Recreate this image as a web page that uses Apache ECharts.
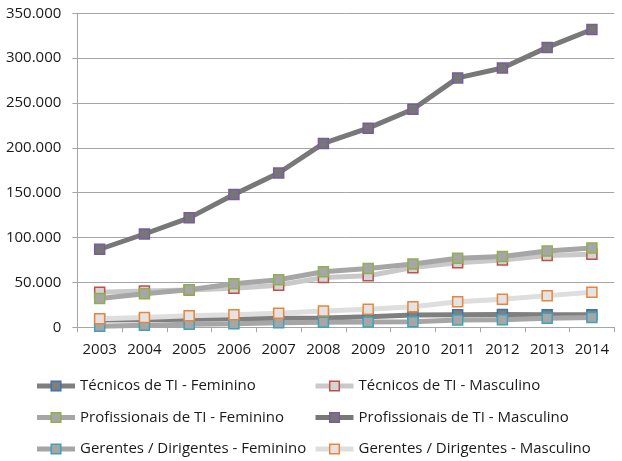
<!DOCTYPE html>
<html>
<head>
<meta charset="utf-8">
<script src="https://cdn.jsdelivr.net/npm/echarts@6/dist/echarts.min.js"></script>
<style>
html,body{margin:0;padding:0;background:#fff;}
#c{width:622px;height:461px;}
</style>
</head>
<body>
<div id="c"></div>
<script>
const years = ['2003','2004','2005','2006','2007','2008','2009','2010','2011','2012','2013','2014'];
const yTicks = [0, 50000, 100000, 150000, 200000, 250000, 300000, 350000];

const tecnicosFem = [8000, 8500, 9000, 9500, 10000, 10500, 11800, 13700, 14000, 14200, 14100, 14000];
const tecnicosMasc = [39000, 40500, 41500, 43500, 47000, 55500, 57500, 66500, 72000, 75000, 80000, 81500];
const profissionaisFem = [32000, 37500, 41800, 48500, 53000, 62000, 65500, 70500, 77000, 79000, 85000, 88500];
const profissionaisMasc = [87000, 104000, 122000, 148000, 172000, 205000, 222000, 243000, 278000, 289000, 312000, 332000];
const gerentesFem = [1100, 2200, 3300, 4000, 5200, 5500, 5800, 6300, 8100, 8500, 10000, 11000];
const gerentesMasc = [9500, 11000, 13000, 14000, 15600, 18200, 20000, 23000, 28600, 31200, 35300, 39000];

const names = [
  'Técnicos de TI - Feminino',
  'Técnicos de TI - Masculino',
  'Profissionais de TI - Feminino',
  'Profissionais de TI - Masculino',
  'Gerentes / Dirigentes - Feminino',
  'Gerentes / Dirigentes - Masculino'
];
const seriesData = [tecnicosFem, tecnicosMasc, profissionaisFem, profissionaisMasc, gerentesFem, gerentesMasc];
const lineColors = ['#7f7f7f', '#c9c9c9', '#a6a6a6', '#787878', '#a6a6a6', '#dedede'];
const fillColors = ['#7f7f7f', '#d4d4d4', '#a6a6a6', '#767676', '#a6a6a6', '#e3e3e3'];
const borderColors = ['#3f72ad', '#c0504d', '#8fb04c', '#7a5c9c', '#3fa2b9', '#e9853a'];

const FONT = 'Open Sans';

const series = names.map((n, i) => ({
  name: n,
  type: 'line',
  data: seriesData[i],
  symbol: 'rect',
  symbolSize: 10,
  showAllSymbol: true,
  lineStyle: { color: lineColors[i], width: 5 },
  itemStyle: { color: fillColors[i], borderColor: borderColors[i], borderWidth: 1.5 },
  emphasis: { disabled: true },
  animation: false,
  z: 2 + i
}));

const legendPos = [
  [34.5, 378.5], [313, 378.5],
  [34.5, 410], [313, 410],
  [34.5, 441.5], [313, 441.5]
];
const legends = names.map((n, i) => ({
  data: [n],
  left: legendPos[i][0],
  top: legendPos[i][1],
  padding: 0,
  itemWidth: 38,
  itemHeight: 12,
  selectedMode: false,
  lineStyle: { width: 5, color: lineColors[i] },
  itemStyle: { color: fillColors[i], borderColor: borderColors[i], borderWidth: 1.5 },
  textStyle: { fontFamily: FONT, fontSize: 15, color: '#1a1a1a', lineHeight: 15 }
}));

const chart = echarts.init(document.getElementById('c'), null, { renderer: 'canvas' });
chart.setOption({
  backgroundColor: '#ffffff',
  animation: false,
  grid: { left: 77.3, right: 7.7, top: 13.3, bottom: 133.7, containLabel: false },
  legend: legends,
  xAxis: {
    type: 'category',
    data: years,
    boundaryGap: true,
    axisLine: { show: true, lineStyle: { color: '#a6a6a6', width: 1 } },
    axisTick: { show: true, length: 5, alignWithLabel: false, lineStyle: { color: '#a6a6a6' } },
    axisLabel: { fontFamily: FONT, fontSize: 15, color: '#1a1a1a', margin: 15, interval: 0 }
  },
  yAxis: {
    type: 'value',
    min: yTicks[0],
    max: yTicks[yTicks.length - 1],
    interval: yTicks[1] - yTicks[0],
    axisLine: { show: true, lineStyle: { color: '#a6a6a6', width: 1 } },
    axisTick: { show: true, length: 5, lineStyle: { color: '#a6a6a6' } },
    splitLine: { show: true, lineStyle: { color: '#a6a6a6', width: 1 } },
    axisLabel: {
      fontFamily: FONT, fontSize: 15, color: '#1a1a1a', margin: 16,
      formatter: v => String(v).replace(/\B(?=(\d{3})+(?!\d))/g, '.')
    }
  },
  series: series
});
</script>
</body>
</html>
